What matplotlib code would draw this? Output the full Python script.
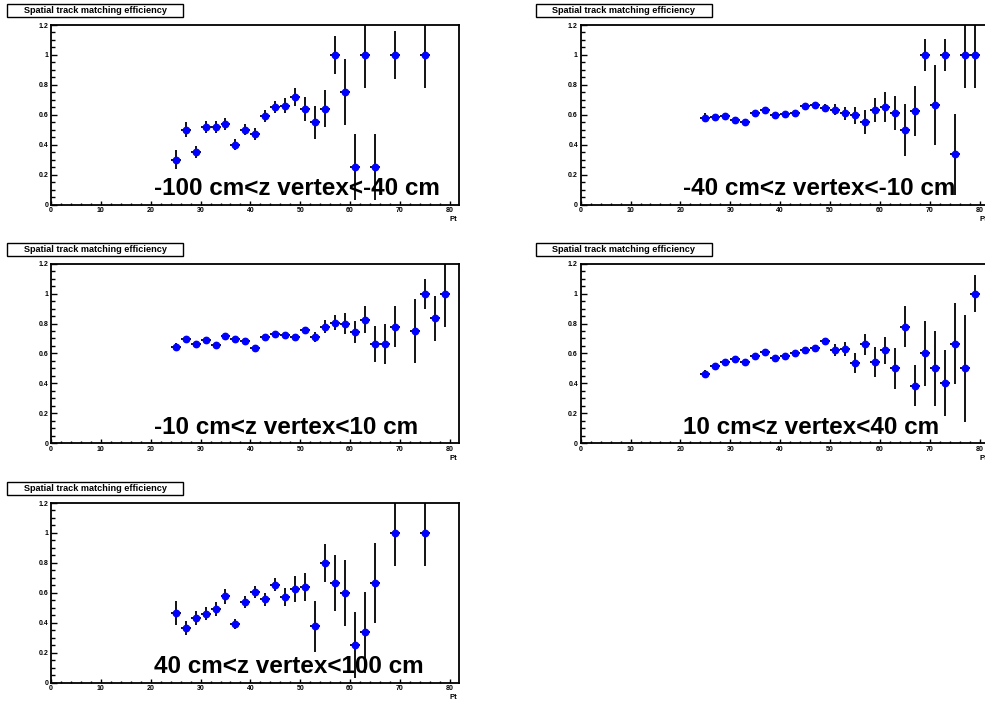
import numpy as np
import matplotlib
matplotlib.use("Agg")
import matplotlib.pyplot as plt
from matplotlib.patches import Rectangle
from matplotlib.ticker import MultipleLocator

plt.rcParams['font.family'] = ['Liberation Sans', 'DejaVu Sans']
plt.rcParams['font.weight'] = 'bold'

title = "Spatial track matching efficiency"
xlabel = "Pt"

# panel 1: -100 < z < -40
pt1 = [25, 27, 29, 31, 33, 35, 37, 39, 41, 43, 45, 47, 49, 51, 53, 55, 57, 59, 61, 63, 65, 69, 75]
eff1 = [0.30, 0.50, 0.35, 0.52, 0.52, 0.54, 0.40, 0.50, 0.47, 0.59, 0.65, 0.66, 0.72, 0.64,
        0.55, 0.64, 1.0, 0.75, 0.25, 1.0, 0.25, 1.0, 1.0]
err1 = [0.065, 0.05, 0.04, 0.04, 0.04, 0.04, 0.035, 0.035, 0.04, 0.04, 0.04, 0.05, 0.06, 0.08,
        0.11, 0.125, 0.125, 0.22, 0.22, 0.22, 0.22, 0.16, 0.22]

# panel 2: -40 < z < -10
pt2 = [25, 27, 29, 31, 33, 35, 37, 39, 41, 43, 45, 47, 49, 51, 53, 55, 57, 59, 61, 63, 65, 67,
       69, 71, 73, 75, 77, 79]
eff2 = [0.58, 0.585, 0.59, 0.565, 0.55, 0.61, 0.63, 0.595, 0.605, 0.615, 0.66, 0.665, 0.645,
        0.635, 0.61, 0.595, 0.55, 0.63, 0.65, 0.61, 0.50, 0.625, 1.0, 0.665, 1.0, 0.335, 1.0, 1.0]
err2 = [0.03, 0.02, 0.02, 0.02, 0.02, 0.02, 0.02, 0.02, 0.02, 0.02, 0.02, 0.02, 0.025, 0.035,
        0.045, 0.06, 0.08, 0.08, 0.10, 0.115, 0.175, 0.17, 0.105, 0.27, 0.105, 0.27, 0.22, 0.22]

# panel 3: -10 < z < 10
pt3 = [25, 27, 29, 31, 33, 35, 37, 39, 41, 43, 45, 47, 49, 51, 53, 55, 57, 59, 61, 63, 65, 67,
       69, 73, 75, 77, 79]
eff3 = [0.645, 0.695, 0.66, 0.69, 0.655, 0.715, 0.695, 0.68, 0.635, 0.71, 0.73, 0.725, 0.71,
        0.755, 0.71, 0.78, 0.805, 0.80, 0.745, 0.825, 0.665, 0.665, 0.78, 0.75, 1.0, 0.835, 1.0]
err3 = [0.025, 0.02, 0.02, 0.02, 0.015, 0.02, 0.02, 0.02, 0.015, 0.02, 0.02, 0.02, 0.02, 0.025,
        0.035, 0.045, 0.05, 0.07, 0.075, 0.09, 0.12, 0.135, 0.14, 0.215, 0.10, 0.15, 0.22]

# panel 4: 10 < z < 40
pt4 = [25, 27, 29, 31, 33, 35, 37, 39, 41, 43, 45, 47, 49, 51, 53, 55, 57, 59, 61, 63, 65, 67,
       69, 71, 73, 75, 77, 79]
eff4 = [0.465, 0.515, 0.54, 0.565, 0.54, 0.585, 0.61, 0.57, 0.58, 0.605, 0.625, 0.635, 0.68,
        0.625, 0.63, 0.535, 0.66, 0.54, 0.62, 0.50, 0.78, 0.385, 0.60, 0.50, 0.40, 0.665, 0.50, 1.0]
err4 = [0.025, 0.02, 0.02, 0.02, 0.02, 0.02, 0.02, 0.02, 0.02, 0.02, 0.02, 0.02, 0.025, 0.04,
        0.045, 0.065, 0.07, 0.10, 0.09, 0.135, 0.14, 0.135, 0.22, 0.25, 0.22, 0.27, 0.355, 0.125]

# panel 5: 40 < z < 100
pt5 = [25, 27, 29, 31, 33, 35, 37, 39, 41, 43, 45, 47, 49, 51, 53, 55, 57, 59, 61, 63, 65, 69, 75]
eff5 = [0.465, 0.365, 0.43, 0.46, 0.49, 0.575, 0.39, 0.535, 0.605, 0.555, 0.655, 0.57, 0.625,
        0.64, 0.375, 0.80, 0.665, 0.60, 0.25, 0.335, 0.665, 1.0, 1.0]
err5 = [0.08, 0.045, 0.045, 0.045, 0.045, 0.05, 0.035, 0.04, 0.04, 0.045, 0.045, 0.06, 0.085,
        0.095, 0.17, 0.125, 0.19, 0.22, 0.22, 0.27, 0.27, 0.22, 0.22]

labels = ["-100 cm<z vertex<-40 cm", "-40 cm<z vertex<-10 cm", "-10 cm<z vertex<10 cm",
          "10 cm<z vertex<40 cm", "40 cm<z vertex<100 cm"]

W, H = 985, 705
fig = plt.figure(figsize=(W / 100, H / 100), dpi=100)

# pixel layout (left x of axes, top y of axes)
cols = [51, 580.7]
rows = [25, 263.7, 503]
aw, ah = 408.3, 179.5

panels = [(pt1, eff1, err1), (pt2, eff2, err2), (pt3, eff3, err3), (pt4, eff4, err4), (pt5, eff5, err5)]

for i, (x, y, e) in enumerate(panels):
    r, c = i // 2, i % 2
    x0, y0 = cols[c], rows[r]
    ax = fig.add_axes([x0 / W, (H - y0 - ah) / H, aw / W, ah / H])
    ax.errorbar(x, y, yerr=e, xerr=1, fmt='o', color='blue', ms=4.6, mec='blue',
                ecolor='black', elinewidth=1.3, capsize=0, zorder=3)
    ax.set_xlim(0, 81.9)
    ax.set_ylim(0, 1.2)
    ax.xaxis.set_major_locator(MultipleLocator(10))
    ax.xaxis.set_minor_locator(MultipleLocator(2))
    ax.yaxis.set_minor_locator(MultipleLocator(0.05))
    ax.set_yticks([0, 0.2, 0.4, 0.6, 0.8, 1.0, 1.2])
    ax.set_yticklabels(["0", "0.2", "0.4", "0.6", "0.8", "1", "1.2"])
    ax.tick_params(which='both', direction='in', top=False, right=False, width=1.0,
                   labelsize=5, pad=2)
    ax.tick_params(axis='y', which='major', length=4.3)
    ax.tick_params(axis='y', which='minor', length=2.6)
    ax.tick_params(axis='x', which='major', length=3.0)
    ax.tick_params(axis='x', which='minor', length=1.5)
    for sp in ax.spines.values():
        sp.set_linewidth(1.3)
    ax.text(20.6, 0.062, labels[i], fontsize=17.5, fontweight='bold', va='baseline', ha='left',
            zorder=4)
    ax.text(0.995, -0.086, xlabel, transform=ax.transAxes, ha='right', va='center', fontsize=5.5,
            fontweight='bold')
    # title box
    bx0 = x0 - 44 if c == 0 else x0 - 44.7
    bw, bh = 176, 13
    by0 = y0 - 21
    fig.patches.append(Rectangle((bx0 / W, 1 - (by0 + bh) / H), bw / W, bh / H,
                                 transform=fig.transFigure, facecolor='white',
                                 edgecolor='black', linewidth=1.0))
    fig.text((bx0 + bw / 2) / W, 1 - (by0 + bh / 2) / H, title, ha='center', va='center',
             fontsize=6.6, fontweight='bold')

fig.savefig("out.png", dpi=100)
